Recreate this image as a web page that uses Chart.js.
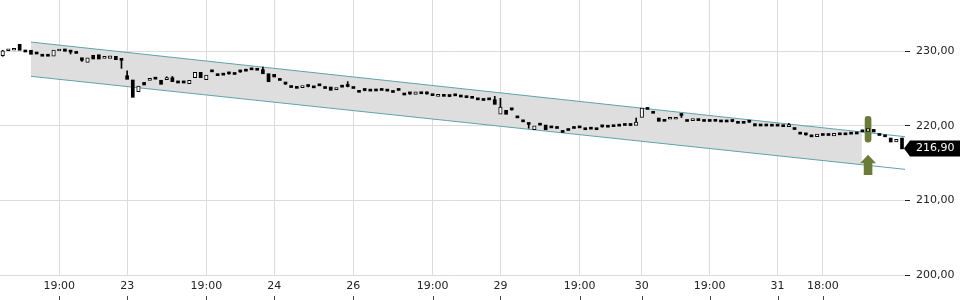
<!DOCTYPE html>
<html><head><meta charset="utf-8">
<script src="https://cdn.jsdelivr.net/npm/chart.js@4/dist/chart.umd.min.js"></script>
<style>html,body{margin:0;padding:0;background:#fff}#wrap{width:960px;height:300px;position:relative}</style>
</head><body><div id="wrap"><canvas id="c" width="960" height="300"></canvas></div>
<script>
// ---- data (candle index 0..159) ----
const opens = [229.37,230.04,230.10,230.90,230.04,230.10,229.70,229.56,229.46,229.30,230.00,230.27,229.90,229.72,229.10,228.49,229.42,229.50,229.00,229.00,
229.29,228.93,226.69,226.12,224.55,225.80,226.08,226.27,226.08,226.16,226.43,226.00,226.00,225.62,226.43,227.15,226.16,227.25,226.88,226.81,
226.98,226.90,227.24,227.50,227.52,227.60,227.50,226.96,226.88,226.10,225.62,225.15,225.18,225.10,225.29,225.11,225.38,225.02,225.18,224.82,
225.20,225.29,225.02,224.74,224.76,224.67,224.82,224.76,224.67,224.49,224.76,224.28,224.30,224.20,224.55,224.30,224.20,223.93,224.11,223.95,
224.04,224.11,224.02,223.93,223.50,223.42,223.50,223.48,221.53,222.06,222.17,221.09,220.56,220.21,219.46,220.11,220.09,219.75,219.67,219.14,
219.40,219.67,219.75,219.73,219.58,219.73,219.89,220.03,220.05,219.98,220.07,220.07,220.05,221.12,222.22,221.83,221.03,220.76,220.86,220.86,
221.41,220.61,220.68,220.86,220.61,220.61,220.76,220.76,220.68,220.61,220.50,220.59,220.52,220.28,220.23,220.23,219.98,219.98,220.05,219.87,
219.53,218.91,218.82,218.55,218.53,218.73,218.73,218.62,218.82,218.82,218.91,219.16,219.22,219.25,219.51,218.73,218.55,218.35,217.82,218.35];
const highs = [230.10,230.30,230.36,230.90,230.04,230.10,229.70,229.56,229.46,230.13,230.27,230.27,230.04,229.72,229.10,229.10,229.42,229.50,229.29,229.37,
229.29,228.93,227.36,226.12,225.30,225.80,226.35,226.27,226.08,226.55,226.60,226.00,226.00,226.08,227.15,227.15,226.79,227.25,226.88,226.81,
227.08,226.90,227.35,227.50,227.52,227.60,227.86,226.96,226.88,226.10,225.72,225.15,225.18,225.36,225.38,225.11,225.38,225.02,225.18,225.09,
225.20,225.90,225.02,224.74,224.85,224.67,224.82,224.76,224.67,224.49,224.76,224.28,224.40,224.55,224.55,224.50,224.20,224.20,224.11,224.05,
224.04,224.11,224.02,223.93,223.50,223.42,223.50,223.93,223.67,222.06,222.28,221.09,220.56,220.25,220.00,220.11,220.09,219.75,219.67,219.14,
219.40,219.67,219.75,219.73,219.58,219.73,219.98,220.03,220.05,219.98,220.07,220.20,221.03,222.37,222.22,221.83,221.03,220.76,221.12,221.12,
221.41,220.61,220.94,220.86,220.61,220.61,220.76,220.76,220.68,220.70,220.50,220.59,220.70,220.28,220.23,220.23,219.98,219.98,220.05,220.32,
219.53,218.91,218.90,218.55,218.89,218.73,218.73,218.98,218.82,218.82,218.91,219.16,219.22,219.60,219.51,218.73,218.55,218.35,218.18,218.35];
const lows = [229.30,230.04,230.10,230.10,229.87,229.56,229.60,229.30,229.30,229.30,230.00,229.96,229.60,229.68,228.60,228.49,228.93,228.93,229.00,229.00,
228.84,227.68,226.21,223.80,224.55,225.45,226.08,226.23,225.54,226.16,225.90,225.72,225.72,225.62,226.43,226.43,226.16,227.21,226.70,226.77,
226.90,226.86,227.15,227.30,227.48,227.42,226.96,225.89,226.52,226.06,225.52,225.11,225.00,225.10,225.20,225.07,225.34,224.98,224.74,224.82,
225.16,225.20,224.98,224.47,224.66,224.63,224.65,224.72,224.63,224.45,224.72,224.11,224.20,224.20,224.28,224.22,224.02,223.93,223.93,223.88,
224.00,223.84,223.75,223.67,223.46,223.38,223.46,222.86,221.53,221.53,222.08,221.05,220.52,219.66,219.46,220.07,219.46,219.71,219.63,219.10,
219.36,219.63,219.71,219.46,219.54,219.46,219.80,219.80,219.87,219.94,220.03,220.00,220.05,221.12,222.18,221.66,220.59,220.59,220.86,220.86,
221.10,220.57,220.68,220.68,220.57,220.57,220.59,220.50,220.50,220.52,220.32,220.32,220.45,219.96,219.96,219.96,219.94,219.94,219.87,219.87,
219.49,218.87,218.75,218.51,218.53,218.69,218.69,218.62,218.78,218.78,218.87,218.89,219.18,219.25,219.16,218.69,218.51,217.82,217.82,216.90];
const closes = [230.04,230.30,230.36,230.10,229.87,229.56,229.60,229.30,229.30,230.13,230.27,229.96,229.85,229.68,228.75,229.10,228.93,228.93,229.29,229.37,
228.84,228.75,226.21,223.80,225.30,225.45,226.35,226.23,225.54,226.43,225.90,225.72,225.72,226.08,227.15,226.43,226.79,227.21,226.70,226.77,
226.94,226.86,227.20,227.30,227.48,227.42,226.96,225.89,226.52,226.06,225.58,225.11,225.00,225.36,225.25,225.07,225.34,224.98,224.74,225.09,
225.16,225.25,224.98,224.47,224.72,224.63,224.65,224.72,224.63,224.45,224.72,224.11,224.26,224.55,224.28,224.26,224.02,224.20,223.93,223.91,
224.00,223.84,223.75,223.67,223.46,223.38,223.46,222.86,222.50,221.53,222.13,221.05,220.52,220.17,220.00,220.07,219.46,219.71,219.63,219.10,
219.36,219.63,219.71,219.46,219.54,219.46,219.85,219.80,219.87,219.94,220.03,220.03,220.50,222.37,222.18,221.66,220.59,220.59,221.12,221.12,
221.37,220.57,220.94,220.68,220.57,220.57,220.59,220.50,220.50,220.57,220.32,220.32,220.48,219.96,219.96,219.96,219.94,219.94,219.87,220.14,
219.49,218.87,218.78,218.51,218.89,218.69,218.69,218.98,218.78,218.78,218.87,218.89,219.18,219.60,219.16,218.69,218.51,217.82,218.18,216.90];

// x-axis ticks (candle index) and labels
const xTickPositions = [10, 22, 36, 48, 62, 76, 88, 102, 113, 125, 137, 145];
const xTickLabels = ["19:00","23","19:00","24","26","19:00","29","19:00","30","19:00","31","18:00"];
// y-axis ticks
const yTickValues = [200, 210, 220, 230];

// trend channel (candle index -> value)
const channelX = [5, 151.9, 159.53];
const channelUpper = [231.2, 219.16, 218.53];
const channelLower = [226.61, 214.78, 214.16];

// signal marker
const signalIndex = [153];
const signalBarLow = [217.8];
const signalBarHigh = [221.25];
const arrowTip = [216.1];
const arrowBase = [213.4];

// ---- build datasets ----
const N = closes.length;
const upBodies = [], downBodies = [], upperWicks = [], lowerWicks = [];
for (let i = 0; i < N; i++) {
  const o = opens[i], c = closes[i];
  const top = Math.max(o, c), bot = Math.min(o, c);
  (c >= o ? upBodies : downBodies).push({x: i, y: [o, c]});
  if (highs[i] > top) upperWicks.push({x: i, y: [top, highs[i]]});
  if (lows[i] < bot) lowerWicks.push({x: i, y: [lows[i], bot]});
}
const fillCount = 2;
const upperFill = channelX.slice(0, fillCount).map((x, k) => ({x, y: channelUpper[k]}));
const lowerFill = channelX.slice(0, fillCount).map((x, k) => ({x, y: channelLower[k]}));
const upperLine = channelX.map((x, k) => ({x, y: channelUpper[k]}));
const lowerLine = channelX.map((x, k) => ({x, y: channelLower[k]}));
const signalBars = signalIndex.map((x, k) => ({x, y: [signalBarLow[k], signalBarHigh[k]]}));

const GREEN = '#6b7c3a';
const TEAL = '#5ea3ab';
const FONT = 'DejaVu Sans';

const overlayPlugin = {
  id: 'overlay',
  afterDatasetsDraw(chart) {
    const {ctx, scales: {x, y}} = chart;
    ctx.save();
    ctx.fillStyle = GREEN;
    signalIndex.forEach((si, k) => {
      const cx = x.getPixelForValue(si);
      const ty = y.getPixelForValue(arrowTip[k]);
      const by = y.getPixelForValue(arrowBase[k]);
      const headH = 8.5, headW = 8, shaftW = 4.3;
      ctx.beginPath();
      ctx.moveTo(cx, ty);
      ctx.lineTo(cx + headW, ty + headH);
      ctx.lineTo(cx + shaftW, ty + headH);
      ctx.lineTo(cx + shaftW, by);
      ctx.lineTo(cx - shaftW, by);
      ctx.lineTo(cx - shaftW, ty + headH);
      ctx.lineTo(cx - headW, ty + headH);
      ctx.closePath();
      ctx.fill();
    });
    ctx.restore();
  },
  afterDraw(chart) {
    const {ctx, scales: {x, y}, chartArea} = chart;
    ctx.save();
    const last = closes[N - 1];
    const py = Math.round(y.getPixelForValue(last)) - 0.5;
    const tipX = chartArea.right - 1, boxL = chartArea.right + 5, boxR = 960, h = 8;
    ctx.fillStyle = '#000';
    ctx.beginPath();
    ctx.moveTo(tipX, py);
    ctx.lineTo(boxL, py - h);
    ctx.lineTo(boxR, py - h);
    ctx.lineTo(boxR, py + h);
    ctx.lineTo(boxL, py + h);
    ctx.closePath();
    ctx.fill();
    ctx.fillStyle = '#fff';
    ctx.font = '11px "' + FONT + '"';
    ctx.textBaseline = 'middle';
    ctx.textAlign = 'left';
    ctx.fillText(last.toFixed(2).replace('.', ','), chartArea.right + 11, py);
    ctx.strokeStyle = '#444';
    ctx.lineWidth = 1;
    xTickPositions.forEach(v => {
      const px = Math.round(x.getPixelForValue(v)) + 0.5;
      ctx.beginPath();
      ctx.moveTo(px, 296);
      ctx.lineTo(px, 300);
      ctx.stroke();
    });
    ctx.restore();
  }
};

new Chart(document.getElementById('c'), {
  type: 'bar',
  data: {
    datasets: [
      {type: 'line', data: upperFill, borderColor: 'rgba(0,0,0,0)', borderWidth: 0, pointRadius: 0, fill: false, order: 10},
      {type: 'line', data: lowerFill, borderColor: 'rgba(0,0,0,0)', borderWidth: 0, pointRadius: 0, fill: '-1', backgroundColor: '#dedede', order: 9},
      {type: 'line', data: upperLine, borderColor: TEAL, borderWidth: 1, pointRadius: 0, fill: false, order: 6},
      {type: 'line', data: lowerLine, borderColor: TEAL, borderWidth: 1, pointRadius: 0, fill: false, order: 6},
      {data: signalBars, backgroundColor: GREEN, barThickness: 6, borderRadius: 3, borderSkipped: false, grouped: false, order: 4},
      {data: upperWicks, backgroundColor: '#000', barThickness: 1, grouped: false, order: 3},
      {data: lowerWicks, backgroundColor: '#000', barThickness: 1, grouped: false, order: 3},
      {data: downBodies, backgroundColor: '#000', barThickness: 3, minBarLength: 2, grouped: false, order: 1},
      {data: upBodies, backgroundColor: '#fff', borderColor: '#000', borderWidth: 1, borderSkipped: false, barThickness: 3.5, minBarLength: 2, grouped: false, order: 1}
    ]
  },
  options: {
    responsive: false,
    animation: false,
    devicePixelRatio: 1,
    layout: {padding: 0},
    plugins: {legend: {display: false}, tooltip: {enabled: false}},
    scales: {
      x: {
        type: 'linear',
        min: -0.477,
        max: 159.53,
        offset: false,
        afterFit(s) { s.height = 24; s.paddingLeft = 0; s.paddingRight = 0; },
        afterBuildTicks(s) { s.ticks = xTickPositions.map(v => ({value: v})); },
        grid: {color: '#dcdcdc', drawTicks: false, offset: false},
        border: {display: false},
        ticks: {
          autoSkip: false, maxRotation: 0, padding: 4,
          color: '#222', font: {family: FONT, size: 11},
          callback: (v, i) => xTickLabels[i]
        }
      },
      y: {
        position: 'right',
        min: 199.88,
        max: 236.83,
        afterFit(s) { s.width = 55; s.paddingTop = 0; s.paddingBottom = 0; },
        afterBuildTicks(s) { s.ticks = yTickValues.map(v => ({value: v})); },
        grid: {color: '#dcdcdc', tickColor: '#222', tickLength: 5, drawTicks: true},
        border: {display: false},
        ticks: {
          padding: 6, color: '#222', font: {family: FONT, size: 11},
          callback: v => v.toFixed(2).replace('.', ',')
        }
      }
    }
  },
  plugins: [overlayPlugin]
});
</script>
</body></html>
